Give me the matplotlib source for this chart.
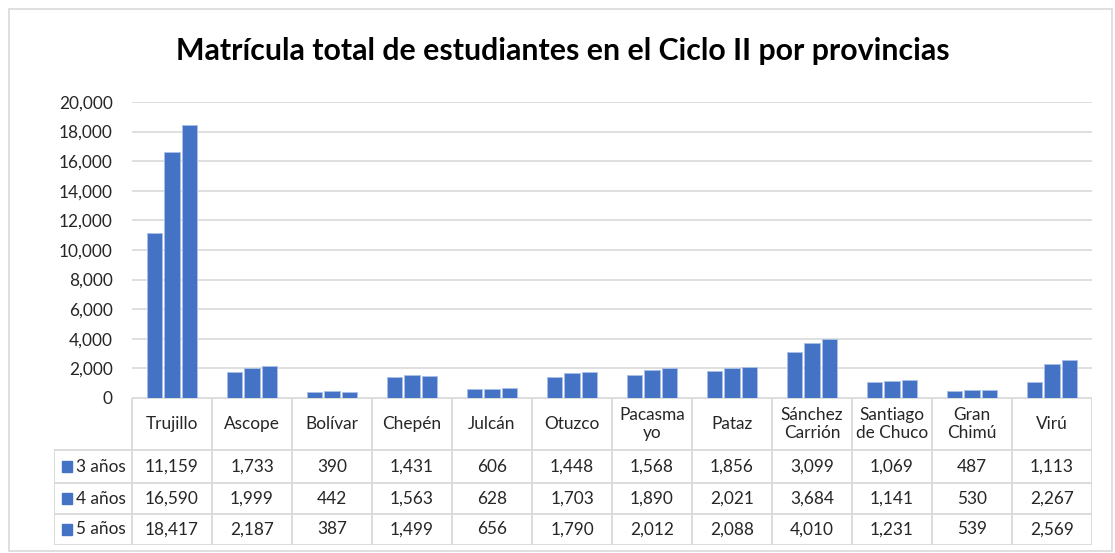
import matplotlib
matplotlib.use("Agg")
import matplotlib.pyplot as plt
import numpy as np
from matplotlib.patches import Rectangle

provincias = ["Trujillo", "Ascope", "Bolívar", "Chepén", "Julcán", "Otuzco",
              "Pacasma\nyo", "Pataz", "Sánchez\nCarrión", "Santiago\nde Chuco",
              "Gran\nChimú", "Virú"]
series_names = ["3 años", "4 años", "5 años"]
anios3 = [11159, 1733, 390, 1431, 606, 1448, 1568, 1856, 3099, 1069, 487, 1113]
anios4 = [16590, 1999, 442, 1563, 628, 1703, 1890, 2021, 3684, 1141, 530, 2267]
anios5 = [18417, 2187, 387, 1499, 656, 1790, 2012, 2088, 4010, 1231, 539, 2569]
yticks = [0, 2000, 4000, 6000, 8000, 10000, 12000, 14000, 16000, 18000, 20000]
title = "Matrícula total de estudiantes en el Ciclo II por provincias"

plt.rcParams['font.family'] = ['Lato', 'DejaVu Sans']

W, H = 1115, 553
fig = plt.figure(figsize=(W / 100, H / 100), dpi=100)
fig.patch.set_facecolor("white")

def fx(px):
    return px / W

def fy(py):
    return 1 - py / H

BLUE = "#4472C4"
GRID = "#D9D9D9"
TXT = "#262626"
FS = 12.4

# outer border
fig.add_artist(Rectangle((fx(9), fy(551)), fx(1112) - fx(9), fy(9) - fy(551),
                         transform=fig.transFigure, fill=False,
                         edgecolor=GRID, linewidth=1.2))

fig.text(fx(563), fy(51), title, ha="center", va="center",
         fontsize=21.8, fontweight="bold", color="black")

left_px, right_px = 132, 1092
top_px, base_px = 102, 398
ax = fig.add_axes([fx(left_px), fy(base_px), fx(right_px) - fx(left_px),
                   fy(top_px) - fy(base_px)])
n = len(provincias)
x = np.arange(n) + 0.5
data = [anios3, anios4, anios5]
offs = [-0.22, 0.0, 0.22]
for vals, off, name in zip(data, offs, series_names):
    ax.bar(x + off, vals, width=0.19, color=BLUE, edgecolor="#A9BFE6",
           linewidth=0.7, label=name, zorder=3)
ax.set_xlim(0, n)
ax.set_ylim(0, 20000)
ax.set_yticks(yticks)
ax.set_yticklabels([f"{v:,}" for v in yticks], fontsize=FS, color=TXT)
ax.set_xticks([])
ax.grid(axis="y", color=GRID, linewidth=1.2, zorder=0)
for s in ax.spines.values():
    s.set_visible(False)
ax.tick_params(axis="y", length=0, pad=14)

# data table
tl_px = 54
tab_bottom = 545
tab = fig.add_axes([fx(tl_px), fy(tab_bottom), fx(right_px) - fx(tl_px),
                    fy(base_px) - fy(tab_bottom)])
x0 = (tl_px - left_px) / 80.0
tab.set_xlim(x0, n)
tab.set_ylim(tab_bottom, base_px)
tab.axis("off")
row_edges = [398, 450, 483, 514, 545]
lc = GRID
lw = 1.3
tab.plot([0, n], [row_edges[0], row_edges[0]], color=lc, lw=lw, solid_capstyle="butt")
for ry in row_edges[1:]:
    tab.plot([x0, n], [ry, ry], color=lc, lw=lw, solid_capstyle="butt")
for i in range(n + 1):
    tab.plot([i, i], [row_edges[0], row_edges[-1]], color=lc, lw=lw, solid_capstyle="butt")
tab.plot([x0, x0], [row_edges[1], row_edges[-1]], color=lc, lw=lw, solid_capstyle="butt")

hy = (row_edges[0] + row_edges[1]) / 2
for i, p in enumerate(provincias):
    tab.text(i + 0.5, hy, p, ha="center", va="center", fontsize=FS,
             color=TXT, linespacing=1.1)
for r, (vals, name) in enumerate(zip(data, series_names)):
    cy = (row_edges[r + 1] + row_edges[r + 2]) / 2
    tab.add_patch(Rectangle((x0 + 0.1, cy - 5.5), 0.13, 11, color=BLUE, clip_on=False))
    tab.text(x0 + 0.27, cy, name, ha="left", va="center", fontsize=FS, color=TXT)
    for i, v in enumerate(vals):
        tab.text(i + 0.5, cy, f"{v:,}", ha="center", va="center",
                 fontsize=FS, color=TXT)

fig.savefig("out.png", dpi=100, facecolor="white")
